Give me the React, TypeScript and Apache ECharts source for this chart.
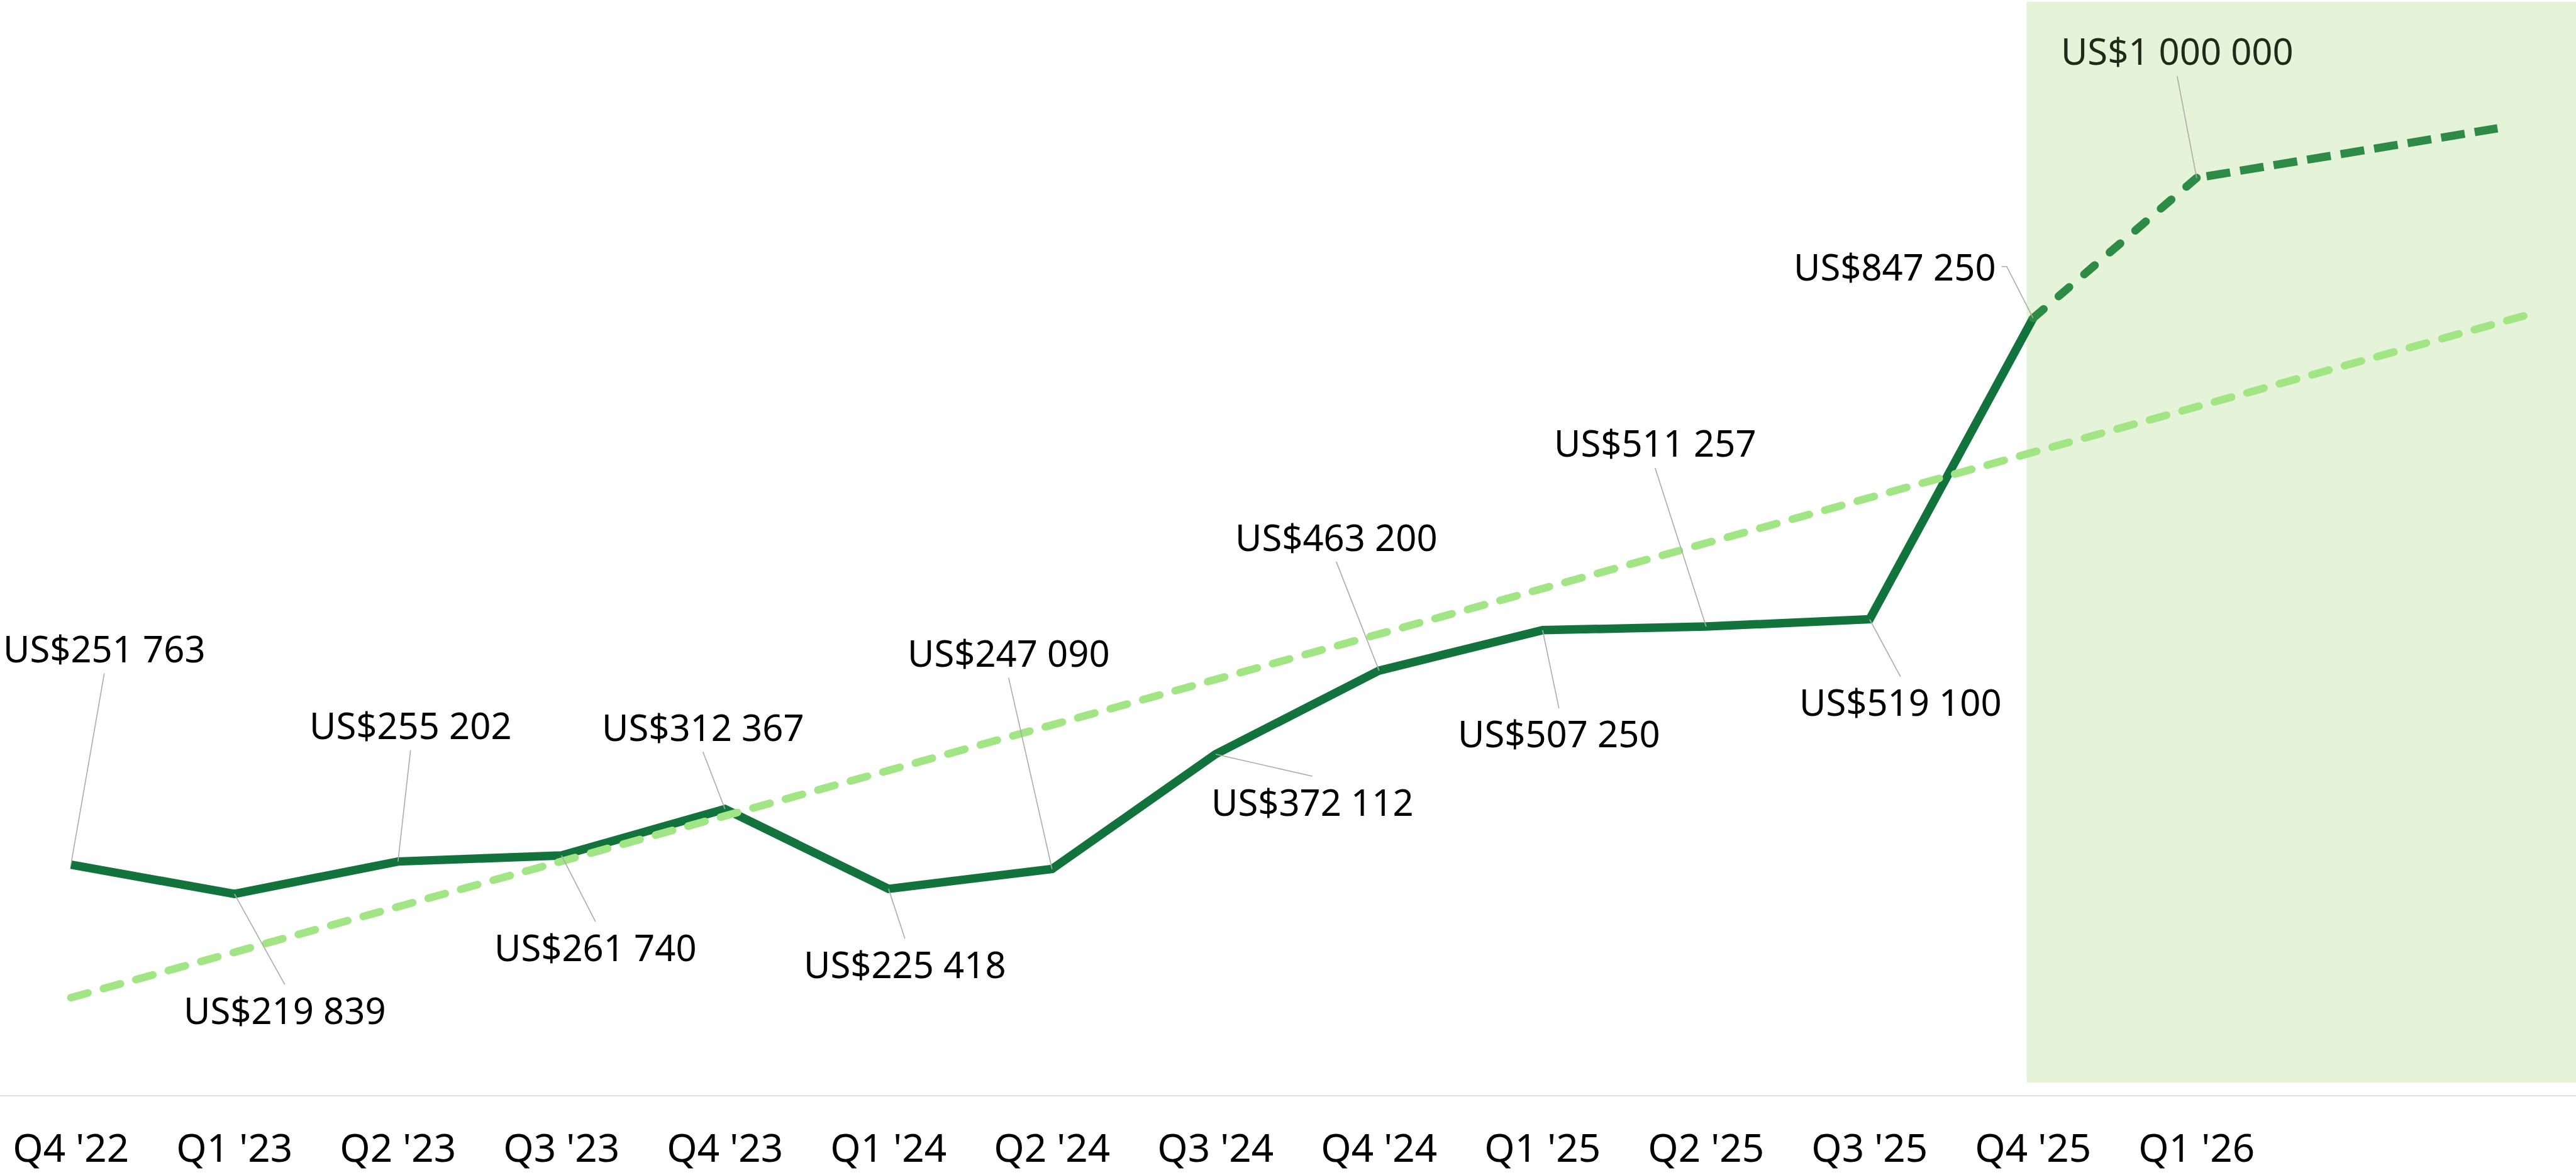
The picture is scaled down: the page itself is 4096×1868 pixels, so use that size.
import React, { useEffect, useRef } from 'react';
import * as echarts from 'echarts';

// ---------- data ----------
const quarterLabels = [
  "Q4 '22", "Q1 '23", "Q2 '23", "Q3 '23", "Q4 '23", "Q1 '24", "Q2 '24",
  "Q3 '24", "Q4 '24", "Q1 '25", "Q2 '25", "Q3 '25", "Q4 '25", "Q1 '26",
];
// actual quarterly revenue, Q4 '22 .. Q4 '25
const actualRevenue = [
  251763, 219839, 255202, 261740, 312367, 225418, 247090,
  372112, 463200, 507250, 511257, 519100, 847250,
];
// forecast, Q4 '25 -> Q1 '26
const forecastX = [12, 13];
const forecastRevenue = [847250, 1000000];
// forecast continuation after Q1 '26
const forecastTailX = [13, 14.84];
const forecastTailRevenue = [1000000, 1054000];
// linear trend line
const trendX = [0, 15];
const trendRevenue = [106900, 849600];
// shaded forecast period
const forecastBandX = [11.96, 15.5];
const forecastBandY = [14400, 1192000];

// ---------- styling ----------
const FONT = "'Noto Sans', 'Open Sans', sans-serif";
const FONT_SIZE = 58;
const AXIS_FONT_SIZE = 62;
const LEADER_GAP = 40;
type Side = 'above' | 'below' | 'left';
// label centre offset from its point (px) and which side of the point it sits
const labelPlacement: { dx: number; dy: number; side: Side; stub?: number[]; color?: string }[] = [
  { dx: 53, dy: -344, side: 'above' },
  { dx: 80, dy: 184, side: 'below' },
  { dx: 20, dy: -217, side: 'above' },
  { dx: 54, dy: 145, side: 'below' },
  { dx: -35, dy: -131, side: 'above' },
  { dx: 26, dy: 119, side: 'below' },
  { dx: -69, dy: -344, side: 'above' },
  { dx: 154, dy: 75, side: 'below' },
  { dx: -68, dy: -213, side: 'above' },
  { dx: 26, dy: 164, side: 'below' },
  { dx: -81, dy: -292, side: 'above' },
  { dx: 49, dy: 131, side: 'below' },
  { dx: -220, dy: -82, side: 'left', stub: [-50, -42] },
  { dx: -31, dy: -202, side: 'above', color: '#1f2a1a' },
];

const fmt = (v: number) =>
  'US$' + String(Math.round(v)).replace(/\B(?=(\d{3})+(?!\d))/g, ' ');

const labelledPoints = [
  ...actualRevenue.map((v, i) => [i, v]),
  [forecastX[1], forecastRevenue[1]],
];

export default function App() {
  const ref = useRef<HTMLDivElement>(null);

  useEffect(() => {
    if (!ref.current) return;
    const chart = echarts.init(ref.current, undefined, { renderer: 'svg' });

    const option: any = {
      animation: false,
      backgroundColor: '#ffffff',
      grid: {
        left: -17.2,
        right: -46.8,
        top: -9,
        bottom: 126,
        containLabel: false,
        outerBoundsMode: 'none',
      },
      xAxis: [
        {
          type: 'category',
          data: [...quarterLabels, '', ''],
          boundaryGap: true,
          position: 'bottom',
          axisLine: { show: true, onZero: false, lineStyle: { color: '#e0e0e0', width: 2 } },
          axisTick: { show: false },
          splitLine: { show: false },
          axisLabel: {
            interval: 0,
            margin: 50,
            color: '#000000',
            fontSize: AXIS_FONT_SIZE,
            fontFamily: FONT,
          },
        },
        { type: 'value', min: -0.5, max: 15.5, show: false, splitLine: { show: false } },
      ],
      yAxis: {
        type: 'value',
        min: 0,
        max: 1200000,
        show: false,
        splitLine: { show: false },
      },
      series: [
        {
          type: 'line',
          name: 'band',
          xAxisIndex: 1,
          data: [],
          z: 1,
          silent: true,
          markArea: {
            silent: true,
            itemStyle: { color: '#E5F3D9' },
            data: [[
              { coord: [forecastBandX[0], forecastBandY[0]] },
              { coord: [forecastBandX[1], forecastBandY[1]] },
            ]],
          },
        },
        {
          type: 'line',
          name: 'actual',
          xAxisIndex: 1,
          data: actualRevenue.map((v, i) => [i, v]),
          symbol: 'none',
          lineStyle: { color: '#12743C', width: 13.5, join: 'miter' },
          z: 2,
        },
        {
          type: 'line',
          name: 'forecast',
          xAxisIndex: 1,
          data: forecastX.map((x, k) => [x, forecastRevenue[k]]),
          symbol: 'none',
          lineStyle: { color: '#2E8B45', width: 13, type: [22, 31.5], cap: 'round' },
          z: 3,
        },
        {
          type: 'line',
          name: 'forecastTail',
          xAxisIndex: 1,
          data: forecastTailX.map((x, k) => [x, forecastTailRevenue[k]]),
          symbol: 'none',
          lineStyle: { color: '#2E8B45', width: 13, type: [38, 16], dashOffset: 38, cap: 'butt' },
          z: 3,
        },
        {
          type: 'line',
          name: 'trend',
          xAxisIndex: 1,
          data: trendX.map((x, k) => [x, trendRevenue[k]]),
          symbol: 'none',
          lineStyle: { color: '#A1E584', width: 12.2, type: [28, 25.6], cap: 'round' },
          z: 4,
        },
        {
          type: 'custom',
          name: 'labels',
          xAxisIndex: 1,
          clip: false,
          z: 5,
          data: labelledPoints,
          renderItem: (params: any, api: any) => {
            const i = params.dataIndex;
            const p = api.coord([api.value(0), api.value(1)]);
            const L = labelPlacement[i];
            const cx = p[0] + L.dx;
            const cy = p[1] + L.dy;
            let points: number[][];
            if (L.side === 'above') points = [[p[0], p[1]], [cx, cy + LEADER_GAP]];
            else if (L.side === 'below') points = [[p[0], p[1]], [cx, cy - LEADER_GAP]];
            else points = [[p[0], p[1]], [p[0] + L.stub![1], cy], [p[0] + L.stub![0], cy]];
            return {
              type: 'group',
              children: [
                {
                  type: 'polyline',
                  shape: { points },
                  style: { stroke: '#ababab', lineWidth: 1.6, fill: null },
                },
                {
                  type: 'text',
                  x: cx,
                  y: cy,
                  style: {
                    text: fmt(api.value(1)),
                    fill: L.color || '#000000',
                    fontSize: FONT_SIZE,
                    fontFamily: FONT,
                    align: 'center',
                    verticalAlign: 'middle',
                  },
                },
              ],
            };
          },
        },
      ],
    };

    chart.setOption(option);
    return () => chart.dispose();
  }, []);

  return (
    <div
      ref={ref}
      style={{ position: 'fixed', left: 0, top: 0, width: '4096px', height: '1868px' }}
    />
  );
}
